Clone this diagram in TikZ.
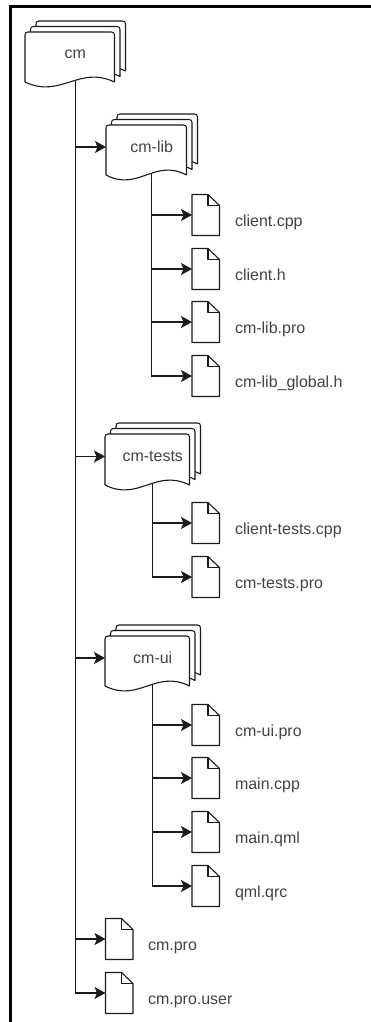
\documentclass[tikz,border=0pt]{standalone}
\usepackage{fontspec}
\setmainfont{Liberation Sans}
\usetikzlibrary{arrows.meta,backgrounds}
\definecolor{inkc}{HTML}{1A1A1A}
\definecolor{textc}{HTML}{444444}
\tikzset{
  docshape/.style={draw=inkc,line width=1.1pt,fill=white,line join=round},
  boxnode/.style={inner sep=0pt,outer sep=0pt,text=textc,font=\fontsize{16}{19}\selectfont},
  filelabel/.style={inner sep=0pt,outer sep=0pt,anchor=base west,text=textc,font=\fontsize{16}{19}\selectfont},
  conn/.style={draw=inkc,line width=1.1pt,-{Stealth[length=11pt,width=12pt,inset=2.5pt]}},
  frameline/.style={draw=black,line width=2.7pt}
}
% one document sheet with a wavy bottom: left, top, width, height
\newcommand{\sheet}[4]{%
  \path[docshape,shift={(#1,#2)}] (0,#4) -- (0,3) .. controls (0,1) and (1,0) .. (3,0)
    -- ({#3-3},0) .. controls ({#3-1},0) and (#3,1) .. (#3,3) -- (#3,#4)
    .. controls ({0.6*#3},{#4-17}) and ({0.4*#3},{#4+17}) .. (0,#4) -- cycle;}
% stacked sheets: name, left, top of front sheet, width, height, text
\newcommand{\folderbox}[6]{%
  \sheet{#2+11}{#3-11}{#4}{#5}
  \sheet{#2+5.5}{#3-5.5}{#4}{#5}
  \sheet{#2}{#3}{#4}{#5}
  \node[boxnode,minimum width={(#4+11)*1pt},minimum height={(#5+16)*1pt}]
    (#1) at ({#2+(#4+11)/2},{#3-11+(#5+16)/2}) {#6};}
% file: name, left, arrow y, label x, label text
\newcommand{\filebox}[5]{%
  \path[docshape,shift={(#2,#3-20.5)}] (0,0) -- (16,0) -- (27.5,11) -- (27.5,41) -- (0,41) -- cycle;
  \path[docshape,fill=none,shift={(#2,#3-20.5)}] (16,0) -- (16,11) -- (27.5,11);
  \node[boxnode,minimum width=27.5pt,minimum height=41pt] (#1) at ({#2+13.75},#3) {};
  \node[filelabel] (#1-label) at (#4,#3+11) {#5};}
\begin{document}
\begin{tikzpicture}[x=1pt,y=-1pt]
\useasboundingbox (0,0) rectangle (371,1022);
\begin{scope}[on background layer]
  \fill[white] (0,0) rectangle (371,1022);
\end{scope}
\coordinate (frameA) at (10.5,1022);
\coordinate (frameB) at (10.5,6.5);
\coordinate (frameC) at (371,6.5);
\draw[frameline] (frameA) -- (frameB) -- (frameC);

\folderbox{cm}{25}{32}{89.5}{50}{cm}
\folderbox{lib}{106}{125}{80.5}{50}{cm-lib}
\folderbox{tests}{105}{434}{84.5}{51}{cm-tests}
\folderbox{ui}{105}{636}{84.5}{50}{cm-ui}

\filebox{f1}{192}{215}{235}{client.cpp}
\filebox{f2}{192}{269}{235}{client.h}
\filebox{f3}{192}{322}{235}{cm-lib.pro}
\filebox{f4}{192}{376}{235}{cm-lib\_global.h}
\filebox{t1}{192}{523}{235}{client-tests.cpp}
\filebox{t2}{192}{577}{235}{cm-tests.pro}
\filebox{u1}{192}{725}{235}{cm-ui.pro}
\filebox{u2}{192}{778}{235}{main.cpp}
\filebox{u3}{192}{832}{235}{main.qml}
\filebox{u4}{192}{886}{235}{qml.qrc}
\filebox{p1}{105.5}{939}{148}{cm.pro}
\filebox{p2}{105.5}{993}{148}{cm.pro.user}

\begin{scope}[on background layer]
  \foreach \t in {lib,tests,ui,p1,p2} \draw[conn] (cm.center) |- (\t.west);
  \foreach \t in {f1,f2,f3,f4} \draw[conn] (lib.center) |- (\t.west);
  \foreach \t in {t1,t2} \draw[conn] (tests.center) |- (\t.west);
  \foreach \t in {u1,u2,u3,u4} \draw[conn] (ui.center) |- (\t.west);
\end{scope}
\end{tikzpicture}
\end{document}
